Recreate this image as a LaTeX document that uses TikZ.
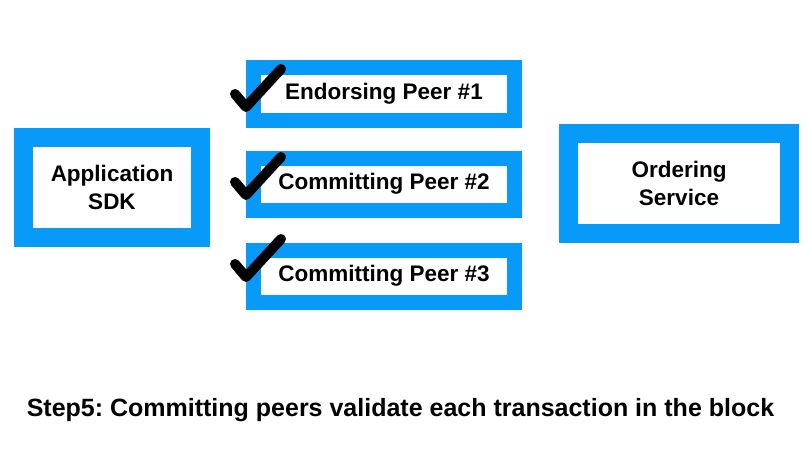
\documentclass[tikz,border=0pt]{standalone}
\usepackage{fontspec}
\setmainfont{Liberation Sans}
\usetikzlibrary{positioning}
\frenchspacing

\definecolor{boxBlue}{RGB}{8,154,248}

\tikzset{
  bigbox/.style={draw=boxBlue,line width=19pt,fill=white,inner sep=0pt,
    minimum width=221pt,minimum height=100pt,align=center,
    font=\bfseries\fontsize{22.5}{28}\selectfont},
  peerbox/.style={draw=boxBlue,line width=15pt,fill=white,inner sep=0pt,
    minimum width=261pt,minimum height=52pt,
    font=\bfseries\fontsize{22.5}{28}\selectfont},
  tickmark/.pic={
    \draw[black,line width=10pt,line cap=round,line join=round]
      (-11,13) -- (0,0) -- (35,38);
  }
}

\begin{document}
\begin{tikzpicture}[x=1pt,y=1pt]
\path[use as bounding box,fill=white] (0,0) rectangle (809,451);

% peers in the middle column
\node[peerbox] (peer2) at (384,267) {Committing Peer \#2};
\node[peerbox,above=23pt of peer2] (peer1) {Endorsing Peer \#1};
\node[peerbox,below=25pt of peer2] (peer3) {Committing Peer \#3};

% client and orderer
\node[bigbox,minimum width=177pt,left=36pt of peer2,yshift=-3.5pt] (app) {Application\\SDK};
\node[bigbox,right=37pt of peer2,yshift=0.5pt] (orderer) {Ordering\\Service};

% check marks
\pic at ([yshift=-13pt]peer1.west) {tickmark};
\pic at ([yshift=-11pt]peer2.west) {tickmark};
\pic at ([yshift=-1pt]peer3.west) {tickmark};

\node[anchor=base,font=\bfseries\fontsize{25}{30}\selectfont] (caption) at (400.5,35)
  {Step5: Committing peers validate each transaction in the block};
\end{tikzpicture}
\end{document}
